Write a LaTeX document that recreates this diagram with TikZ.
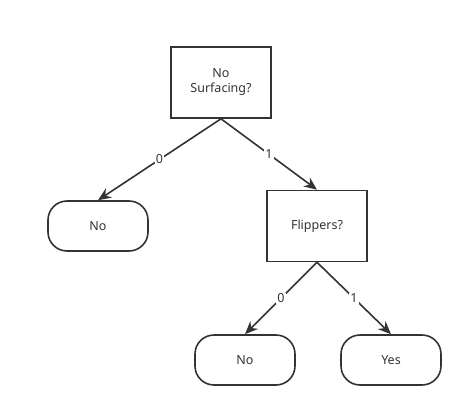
\documentclass[tikz,border=0pt]{standalone}
\usepackage{fontspec}
\setmainfont{Noto Sans}
\usepackage{tikz}
\usetikzlibrary{
        arrows.meta,
        positioning,
        shapes
    }
\definecolor{ink}{HTML}{333333}
\tikzset{>={Stealth[length=13pt,width=11pt]}}
\tikzset{
    test/.style={draw=ink,line width=1.6pt,text=ink,minimum width=100pt,minimum height=71pt,align=center,font=\fontsize{12.5}{15}\selectfont},
    leaf/.style={draw=ink,line width=1.6pt,text=ink,rounded corners=19pt,minimum width=100pt,minimum height=50pt,font=\fontsize{12.5}{15}\selectfont},
    lbl/.style={fill=white,text=ink,inner sep=1pt,font=\fontsize{12.5}{15}\selectfont}
}

\begin{document}
\begin{tikzpicture}[line width=1.6pt]
        \useasboundingbox (0,0) rectangle (473pt,-417pt);
        % tree
        \node[test] (root) at (221pt,-82.5pt) {No\\Surfacing?};
        \node[leaf] (no1) [below of=root,node distance=143.5pt,xshift=-123pt] {No};
        \node[test] (flip) [below of=root,node distance=143.5pt,xshift=96pt] {Flippers?};
        \node[leaf] (no2) [below of=flip,node distance=134pt,xshift=-72pt] {No};
        \node[leaf] (yes) [below of=flip,node distance=134pt,xshift=74pt] {Yes};
        \path[->,color=ink]
                (root.south) edge node[lbl,midway] {0} (no1.north)
                (root.south) edge node[lbl,midway] {1} (flip.north)
                (flip.south) edge node[lbl,midway] {0} (no2.north)
                (flip.south) edge node[lbl,midway] {1} (yes.north)
                ;
\end{tikzpicture}
\end{document}
